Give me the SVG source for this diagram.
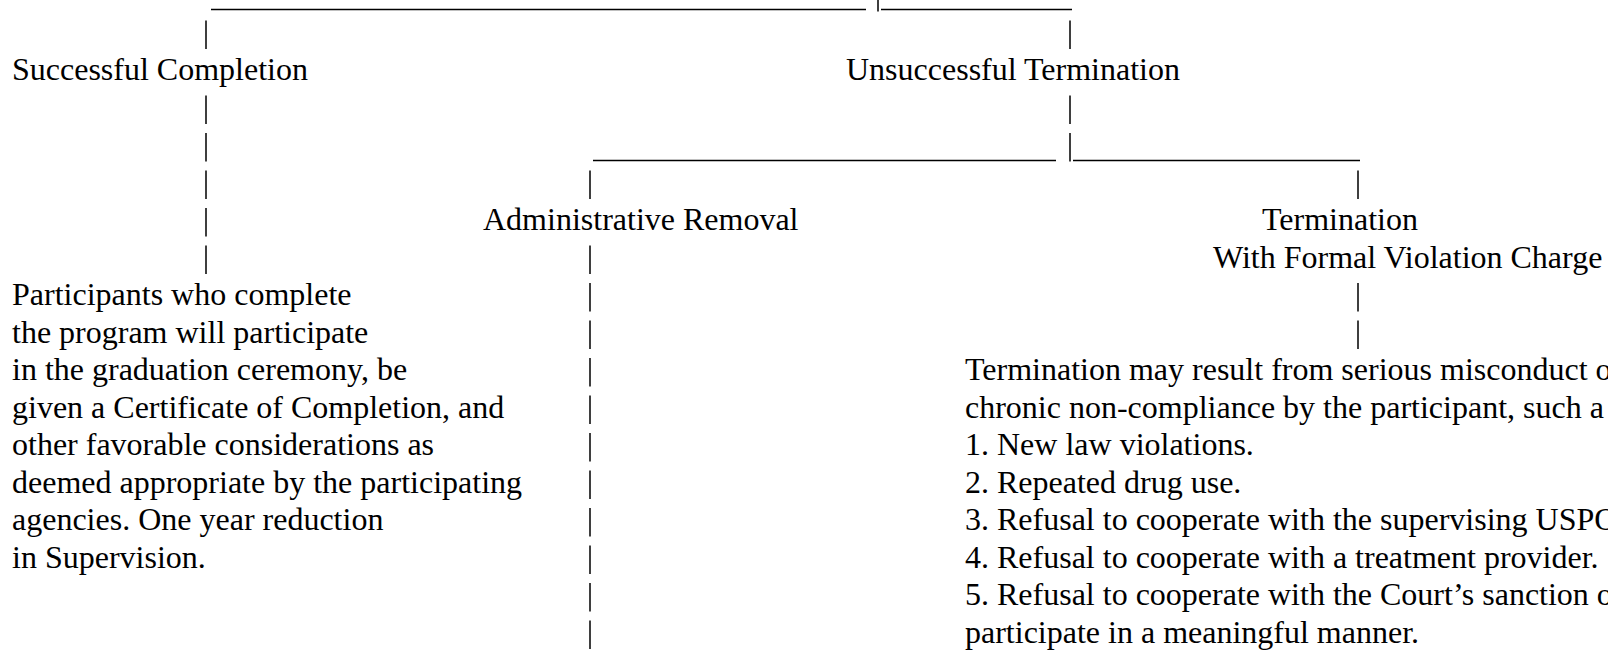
<svg xmlns="http://www.w3.org/2000/svg" width="1608" height="655" viewBox="0 0 1608 655">
  <style>
    .t { font-family: "Liberation Serif", "Times New Roman", serif; font-size: 32px; fill: #000; }
    .ln { stroke: #000; stroke-width: 1.5; fill: none; }
  </style>
  <rect x="0" y="0" width="1608" height="655" fill="#fff"/>
  <g id="connectors">
    <!-- top horizontal -->
    <path class="ln" d="M211 9.5 H866 M881 9.5 H1072 M878 0 V11.5"/>
    <!-- second horizontal -->
    <path class="ln" d="M593 160.5 H1056 M1073 160.5 H1360"/>
    <!-- left column pipes -->
    <path class="ln" d="M206 20.5 V49 M206 95.5 V124 M206 133 V161.5 M206 170.5 V199 M206 208 V236.5 M206 245.5 V274"/>
    <!-- unsuccessful column pipes -->
    <path class="ln" d="M1070 20.5 V49 M1070 95.5 V124 M1070 133 V161.5"/>
    <!-- administrative removal column pipes -->
    <path class="ln" d="M590 170.5 V199 M590 245.5 V274 M590 283 V311.5 M590 320.5 V349 M590 358 V386.5 M590 395.5 V424 M590 433 V461.5 M590 470.5 V499 M590 508 V536.5 M590 545.5 V574 M590 583 V611.5 M590 620.5 V649"/>
    <!-- termination column pipes -->
    <path class="ln" d="M1358 170.5 V199 M1358 283 V311.5 M1358 320.5 V349"/>
  </g>
  <g id="successful-completion">
    <text class="t" x="12" y="80">Successful Completion</text>
  </g>
  <g id="unsuccessful-termination">
    <text class="t" x="846" y="80">Unsuccessful Termination</text>
  </g>
  <g id="administrative-removal">
    <text class="t" x="483" y="230">Administrative Removal</text>
  </g>
  <g id="termination-formal">
    <text class="t" x="1262" y="230">Termination</text>
    <text class="t" x="1213" y="267.5">With Formal Violation Charge</text>
  </g>
  <g id="successful-details">
    <text class="t" x="12" y="305">Participants who complete</text>
    <text class="t" x="12" y="342.5">the program will participate</text>
    <text class="t" x="12" y="380">in the graduation ceremony, be</text>
    <text class="t" x="12" y="417.5">given a Certificate of Completion, and</text>
    <text class="t" x="12" y="455">other favorable considerations as</text>
    <text class="t" x="12" y="492.5">deemed appropriate by the participating</text>
    <text class="t" x="12" y="530">agencies. One year reduction</text>
    <text class="t" x="12" y="567.5">in Supervision.</text>
  </g>
  <g id="termination-details">
    <text class="t" x="965" y="380">Termination may result from serious misconduct o</text>
    <text class="t" x="965" y="417.5">chronic non-compliance by the participant, such a</text>
    <text class="t" x="965" y="455">1. New law violations.</text>
    <text class="t" x="965" y="492.5">2. Repeated drug use.</text>
    <text class="t" x="965" y="530">3. Refusal to cooperate with the supervising USPO</text>
    <text class="t" x="965" y="567.5">4. Refusal to cooperate with a treatment provider.</text>
    <text class="t" x="965" y="605">5. Refusal to cooperate with the Court’s sanction o</text>
    <text class="t" x="965" y="642.5">participate in a meaningful manner.</text>
  </g>
</svg>
